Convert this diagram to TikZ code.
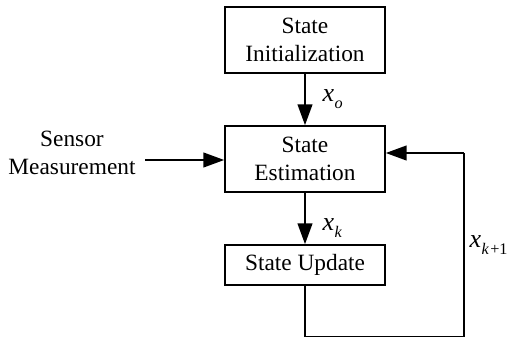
\documentclass[tikz,border=0pt]{standalone}
\usepackage{fontspec}
\setmainfont{Liberation Serif}
\usetikzlibrary{arrows.meta,positioning}
\newcommand{\xsub}[1]{\textit{x}\kern0.02em\raisebox{-0.6ex}{\fontsize{11.5}{11.5}\selectfont #1}}

\begin{document}
\begin{tikzpicture}[line width=1.2pt,
>={Triangle[length=0.52cm,width=0.37cm]},
block/.style={draw,minimum width=4cm,align=center,font=\fontsize{16.6}{20}\selectfont},
lbl/.style={inner sep=0.5pt,font=\fontsize{18.5}{20}\selectfont}]
\useasboundingbox (0,0) rectangle (12.675,8.45);
\node[block,minimum height=1.65cm] (init) at (7.625,7.45) {State\\Initialization};
\node[block,minimum height=1.65cm] (est) at (7.625,4.475) {State\\Estimation};
\node[block,minimum height=1cm] (upd) at (7.625,1.825) {State Update};
\node[align=center,font=\fontsize{16.6}{20}\selectfont] (sensor) at (1.8,4.625) {Sensor\\Measurement};
\coordinate (s0) at (3.625,4.45);
\coordinate (c1) at (7.625,0.04);
\coordinate (c2) at (11.6,0.04);
\coordinate (c3) at (11.6,4.625);
\draw[->] (init) -- node[lbl,right=0.4cm] {\xsub{\textit{o}}} (est);
\draw[->] (est) -- node[lbl,right=0.4cm,pos=0.68] {\xsub{\textit{k}}} (upd);
\draw[->] (s0) -- (s0 -| est.west);
\draw (upd) -- (c1) -- (c2) -- node[lbl,right=0.1cm] {\xsub{\textit{k}\kern0.08em+1}} (c3);
\draw[->] (c3) -- (c3 -| est.east);
\end{tikzpicture}
\end{document}
